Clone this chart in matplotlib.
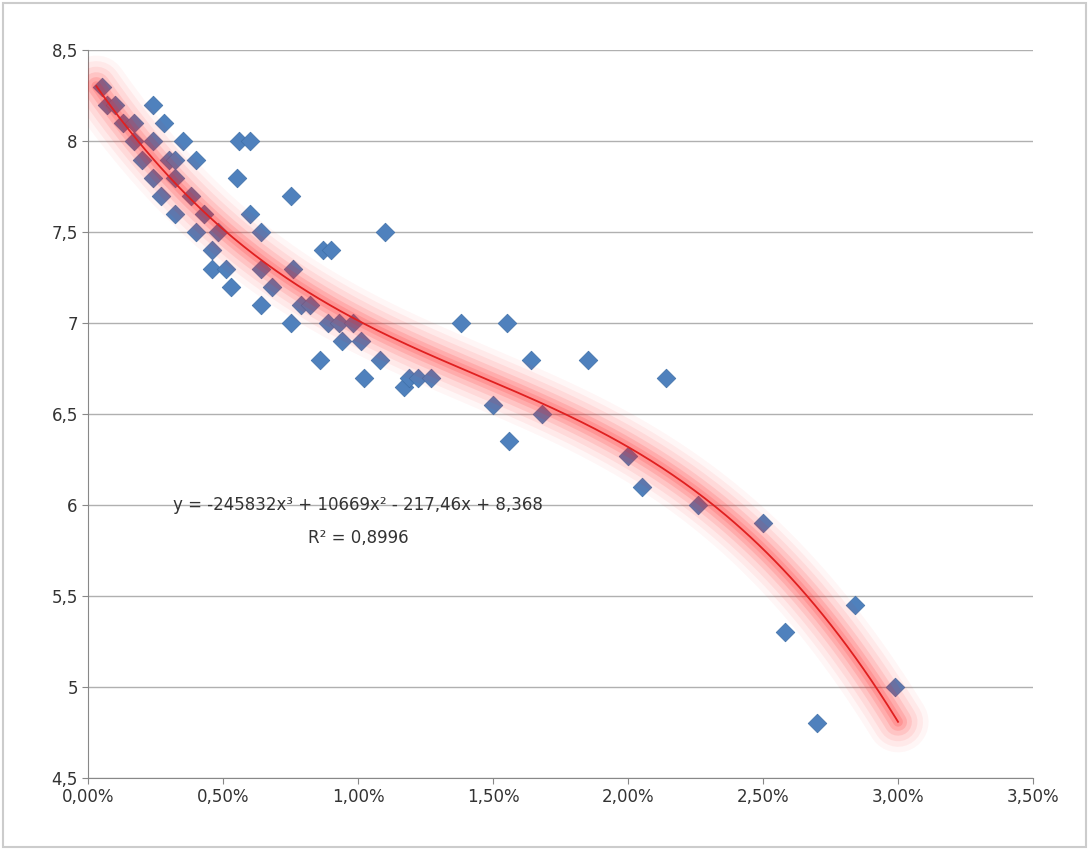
import matplotlib
matplotlib.use("Agg")
import matplotlib.pyplot as plt
import numpy as np
from matplotlib.ticker import FuncFormatter

x_pct = [0.05,0.07,0.1,0.13,0.17,0.17,0.2,0.24,0.24,0.24,0.27,0.28,0.3,0.32,0.32,0.32,0.35,0.38,0.4,0.4,
         0.43,0.46,0.46,0.48,0.51,0.53,0.55,0.56,0.6,0.6,0.64,0.64,0.64,0.68,0.75,0.76,0.75,0.79,0.82,0.86,
         0.87,0.9,0.89,0.93,0.94,0.98,1.01,1.02,1.08,1.1,1.17,1.19,1.22,1.27,1.38,1.5,1.55,1.56,1.64,1.68,
         1.85,2.0,2.05,2.14,2.26,2.5,2.58,2.7,2.84,2.99]
y_val = [8.3,8.2,8.2,8.1,8.1,8.0,7.9,8.2,8.0,7.8,7.7,8.1,7.9,7.9,7.8,7.6,8.0,7.7,7.9,7.5,
         7.6,7.4,7.3,7.5,7.3,7.2,7.8,8.0,8.0,7.6,7.5,7.3,7.1,7.2,7.7,7.3,7.0,7.1,7.1,6.8,
         7.4,7.4,7.0,7.0,6.9,7.0,6.9,6.7,6.8,7.5,6.65,6.7,6.7,6.7,7.0,6.55,7.0,6.35,6.8,6.5,
         6.8,6.27,6.1,6.7,6.0,5.9,5.3,4.8,5.45,5.0]
coef = [-245832, 10669, -217.46, 8.368]

x = np.array(x_pct) / 100
fig = plt.figure(figsize=(10.89, 8.5), dpi=100)
fig.patch.set_facecolor("white")
ax = fig.add_axes([0.081, 0.0847, 0.8676, 0.856])
xt = np.linspace(0.0003, 0.03, 300)
yt = np.polyval(coef, xt)
ax.scatter(x, y_val, marker="D", s=90, color="#4f81bd", edgecolor="#3f6fa8", lw=0.5, zorder=3)
for w, a in [(44, 0.04), (36, 0.06), (28, 0.08), (20, 0.11), (13, 0.14), (7, 0.16)]:
    ax.plot(xt, yt, color="#ff2020", lw=w, alpha=a, solid_capstyle="round", zorder=3.5)
ax.plot(xt, yt, color="#e02020", lw=1.3, zorder=4)
ax.set_xlim(0, 0.035)
ax.set_ylim(4.5, 8.5)
ax.set_xticks(np.arange(0, 0.0351, 0.005))
ax.set_yticks(np.arange(4.5, 8.51, 0.5))
ax.xaxis.set_major_formatter(FuncFormatter(lambda v, p: f"{v*100:.2f}%".replace(".", ",")))
ax.yaxis.set_major_formatter(FuncFormatter(lambda v, p: (f"{v:g}").replace(".", ",")))
ax.grid(axis="y", color="#b0b0b0", lw=1)
ax.set_axisbelow(True)
for s in ["top", "right"]:
    ax.spines[s].set_visible(False)
for s in ["left", "bottom"]:
    ax.spines[s].set_color("#888888")
ax.tick_params(labelsize=12, colors="#333333", length=4, color="#888888")
ax.text(0.01, 6.0, "y = -245832x³ + 10669x² - 217,46x + 8,368", ha="center", va="center",
        fontsize=12, color="#333333", zorder=5)
ax.text(0.01, 5.82, "R² = 0,8996", ha="center", va="center", fontsize=12, color="#333333", zorder=5)
fig.add_artist(plt.Rectangle((0.003, 0.003), 0.994, 0.994, transform=fig.transFigure,
                             fill=False, edgecolor="#cccccc", lw=1.5))
fig.savefig("out.png", dpi=100)
